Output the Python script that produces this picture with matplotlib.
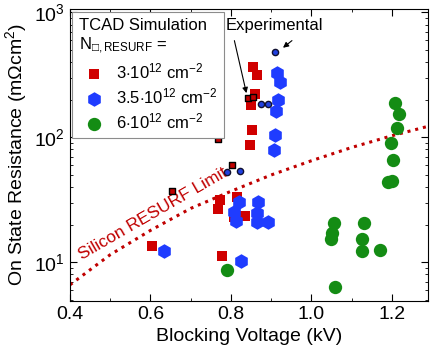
import matplotlib
matplotlib.use("Agg")
import matplotlib.pyplot as plt
from matplotlib.ticker import MultipleLocator, LogLocator, NullFormatter

plt.rcParams['font.family'] = ['Liberation Sans', 'DejaVu Sans']
plt.rcParams['mathtext.fontset'] = 'custom'
plt.rcParams['mathtext.rm'] = 'Liberation Sans'
plt.rcParams['mathtext.it'] = 'Liberation Sans:italic'
plt.rcParams['mathtext.bf'] = 'Liberation Sans:bold'

# TCAD simulation, N = 3e12 cm-2
red_x = [0.604, 0.778, 0.773, 0.768, 0.815, 0.807, 0.835, 0.855, 0.865, 0.860, 0.850, 0.852, 0.847]
red_y = [13.6, 11.3, 31.6, 26.8, 33.4, 23.1, 23.6, 366, 316, 223, 182, 115, 87]
# N = 3.5e12 cm-2
blue_x = [0.634, 0.825, 0.820, 0.807, 0.812, 0.867, 0.865, 0.865, 0.892, 0.914, 0.922, 0.917, 0.912, 0.909, 0.907]
blue_y = [12.4, 10.3, 30.5, 25.4, 21.5, 30.5, 24.9, 21.1, 21.1, 328, 278, 200, 163, 105, 79.4]
# N = 6e12 cm-2
green_x = [0.790, 1.058, 1.056, 1.051, 1.048, 1.130, 1.125, 1.125, 1.170, 1.202, 1.190, 1.200, 1.207, 1.217, 1.212, 1.197]
green_y = [8.7, 6.4, 20.7, 17.2, 15.4, 20.7, 15.4, 12.4, 12.6, 66, 44, 45, 189, 154, 119, 90.4]

# experimental devices
exp_sq_x = [0.653, 0.768, 0.802, 0.842, 0.855]
exp_sq_y = [37.3, 97, 60.3, 207, 211]
exp_ci_x = [0.790, 0.822, 0.875, 0.892, 0.909]
exp_ci_y = [53, 54, 185, 185, 483]

# silicon RESURF limit
si_x = [0.4, 0.5, 0.6, 0.7, 0.8, 0.9, 1.0, 1.1, 1.2, 1.3]
si_y = [6.6, 11.5, 18, 27, 37, 50, 65, 83, 103, 125]

red = "#d00000"
blue = "#1f3cff"
green = "#148c14"

fig = plt.figure(figsize=(4.32, 3.64), dpi=100)
ax = fig.add_axes([0.162, 0.174, 0.829, 0.801])

ax.plot(si_x, si_y, linestyle=(0, (1, 1.6)), color="#c00000", lw=2.2, zorder=2)

ax.scatter(red_x, red_y, marker="s", s=62, color=red, linewidths=0, zorder=3,
           label=r"3$\cdot$10$^{12}$ cm$^{-2}$")
ax.scatter(blue_x, blue_y, marker="h", s=110, color=blue, linewidths=0, zorder=3,
           label=r"3.5$\cdot$10$^{12}$ cm$^{-2}$")
ax.scatter(green_x, green_y, marker="o", s=92, color=green, linewidths=0, zorder=3,
           label=r"6$\cdot$10$^{12}$ cm$^{-2}$")

ax.scatter(exp_sq_x, exp_sq_y, marker="s", s=16, color="#c00000", edgecolors="k", linewidths=1, zorder=4)
ax.scatter(exp_ci_x, exp_ci_y, marker="o", s=20, color="#2040e0", edgecolors="#101030", linewidths=1, zorder=4)

ax.text(0.606, 24.5, "Silicon RESURF Limit", color="#c00000", fontsize=12.5, rotation=30,
        ha="center", va="center", rotation_mode="anchor")

ax.text(0.909, 790, "Experimental", fontsize=12, ha="center", va="center")
ax.annotate("", xy=(0.840, 215), xytext=(0.807, 625),
            arrowprops=dict(arrowstyle="-|>", color="k", lw=0.8, mutation_scale=8))
ax.annotate("", xy=(0.924, 505), xytext=(0.957, 614),
            arrowprops=dict(arrowstyle="-|>", color="k", lw=0.8, mutation_scale=8))

ax.set_yscale("log")
ax.set_xlim(0.4, 1.29)
ax.set_ylim(4.93, 1063)
ax.xaxis.set_major_locator(MultipleLocator(0.2))
ax.xaxis.set_minor_locator(MultipleLocator(0.1))
ax.yaxis.set_minor_locator(LogLocator(base=10, subs=range(2, 10)))
ax.yaxis.set_minor_formatter(NullFormatter())
ax.tick_params(which="both", direction="in", top=True, right=True, labelsize=14)
ax.tick_params(which="major", length=5)
ax.tick_params(which="minor", length=2.5)

ax.set_xlabel("Blocking Voltage (kV)", fontsize=14)
ax.set_ylabel(r"On State Resistance (m$\Omega$cm$^2$)", fontsize=14)

leg = ax.legend(loc="upper left", bbox_to_anchor=(0, 1), borderaxespad=0.15,
                title="TCAD Simulation\nN$_{\\mathrm{\u25a1,RESURF}}$ =",
                title_fontsize=12, fontsize=12, alignment="left",
                fancybox=False, framealpha=1, edgecolor="0.55",
                handlelength=1.8, handletextpad=0.4, borderpad=0.4, labelspacing=0.3)
leg.get_frame().set_linewidth(0.8)

fig.savefig("out.png", dpi=100)
